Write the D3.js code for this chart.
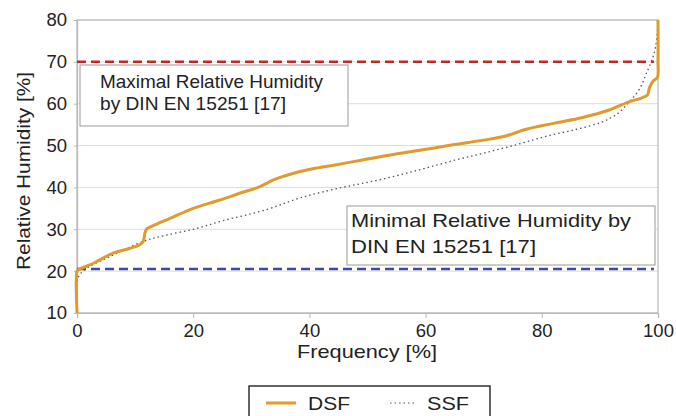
<!DOCTYPE html>
<html>
<head>
<meta charset="utf-8">
<title>Relative humidity frequency</title>
<script src="https://d3js.org/d3.v7.min.js"></script>
<style>
  body { margin: 0; background: #fff; }
  text { font-family: "Liberation Sans", Arial, sans-serif; fill: #222; }
</style>
</head>
<body>
<svg width="676" height="416"></svg>
<script>
// data (frequency %, relative humidity %)
var dsfFreq = [0, 0, 0.2, 3, 6.2, 9, 10.8, 11.4, 11.7, 12, 13, 16, 20, 24.6, 28, 31.5, 34, 38.4, 41, 45, 50, 54.9, 60, 64.7, 70, 73.8, 77.3, 82, 87, 91.6, 95.1, 97, 98.2, 98.5, 99.1, 99.9, 100, 100];
var dsfRH   = [10, 20, 20.3, 22, 24.3, 25.4, 26.3, 27.1, 29.1, 30.1, 30.8, 32.6, 35, 37, 38.6, 40.2, 41.9, 43.8, 44.6, 45.5, 46.8, 48, 49.1, 50.2, 51.3, 52.3, 53.9, 55.3, 56.7, 58.5, 60.5, 61.3, 62.1, 63.7, 65.3, 66.3, 70, 80];

var ssfFreq = [0, 0, 0.5, 1.7, 5.7, 11.4, 15, 20, 25, 32.6, 38.4, 45, 52, 58.9, 65, 70, 75.6, 80.7, 86, 90.5, 93, 95.1, 96.8, 97.9, 99.4, 99.9, 100];
var ssfRH   = [10, 17.5, 19.2, 20.7, 23.5, 27.1, 28.5, 30, 32, 34.7, 37.5, 39.8, 41.8, 44.2, 46.5, 48.2, 50.2, 52.2, 53.9, 55.7, 57.6, 60.5, 63.5, 66.9, 72.4, 77.6, 80];

var xTicks = [0, 20, 40, 60, 80, 100];
var yTicks = [10, 20, 30, 40, 50, 60, 70, 80];
var maxRH = 70;
var minRH = 20.5;
var maxLabel = ["Maximal Relative Humidity", "by DIN EN 15251 [17]"];
var minLabel = ["Minimal Relative Humidity by", "DIN EN 15251 [17]"];
var seriesNames = ["DSF", "SSF"];

var margin = { left: 77, right: 18, top: 20, bottom: 103 };
var width = 676, height = 416;
var svg = d3.select("svg");

var x = d3.scaleLinear().domain([0, 100]).range([margin.left, width - margin.right]);
var y = d3.scaleLinear().domain([10, 80]).range([height - margin.bottom, margin.top]);

// text widths measured on the reference (the original font runs wider)
function fit(sel, w) {
  return sel.attr("textLength", w).attr("lengthAdjust", "spacingAndGlyphs");
}

// grid
svg.append("g").selectAll("line").data(yTicks).enter().append("line")
  .attr("x1", x(0)).attr("x2", x(100))
  .attr("y1", d => y(d)).attr("y2", d => y(d))
  .attr("stroke", "#dcdcdc").attr("stroke-width", 1);

// frame
svg.append("rect")
  .attr("x", x(0)).attr("y", y(80))
  .attr("width", x(100) - x(0)).attr("height", y(10) - y(80))
  .attr("fill", "none").attr("stroke", "#b8b8b8").attr("stroke-width", 1.2);

// axes
var xAxis = svg.append("g")
  .attr("transform", "translate(0," + y(10) + ")")
  .call(d3.axisBottom(x).tickValues(xTicks).tickSize(5).tickPadding(6));
var yAxis = svg.append("g")
  .attr("transform", "translate(" + x(0) + ",0)")
  .call(d3.axisLeft(y).tickValues(yTicks).tickSize(3).tickPadding(7));
[xAxis, yAxis].forEach(function (a) {
  a.select(".domain").attr("stroke", "#b8b8b8").attr("stroke-width", 1.2);
  a.selectAll(".tick line").attr("stroke", "#b8b8b8");
  a.selectAll("text").style("font-size", "18.5px").style("font-family", "Liberation Sans, Arial, sans-serif").attr("fill", "#222");
});

fit(svg.append("text")
  .attr("x", 367).attr("y", 358)
  .attr("text-anchor", "middle").style("font-size", "18.5px")
  .text("Frequency [%]"), 140);
fit(svg.append("text")
  .attr("transform", "translate(30,171) rotate(-90)")
  .attr("text-anchor", "middle").style("font-size", "18.5px")
  .text("Relative Humidity [%]"), 198);

// limit lines
svg.append("line")
  .attr("x1", x(0)).attr("x2", x(99.3))
  .attr("y1", y(maxRH)).attr("y2", y(maxRH))
  .attr("stroke", "#c0282c").attr("stroke-width", 2.5).attr("stroke-dasharray", "9,5");
svg.append("line")
  .attr("x1", x(0)).attr("x2", x(99.3))
  .attr("y1", y(minRH)).attr("y2", y(minRH))
  .attr("stroke", "#3c4aa3").attr("stroke-width", 2.5).attr("stroke-dasharray", "9,5");

// curves
var line = d3.line().x(d => x(d[0])).y(d => y(d[1])).curve(d3.curveCatmullRom.alpha(0.5));
var ssf = d3.zip(ssfFreq, ssfRH);
var dsf = d3.zip(dsfFreq, dsfRH);

svg.append("path").datum(ssf)
  .attr("d", line)
  .attr("fill", "none").attr("stroke", "#555").attr("stroke-width", 1.3)
  .attr("stroke-dasharray", "1.5,3");
svg.append("path").datum(dsf)
  .attr("d", line)
  .attr("fill", "none").attr("stroke", "#e09a2e").attr("stroke-width", 3)
  .attr("stroke-linejoin", "round");

// annotation boxes
function labelBox(bx, by, bw, bh, lines, widths, tx, ys) {
  var g = svg.append("g");
  g.append("rect").attr("x", bx).attr("y", by).attr("width", bw).attr("height", bh)
    .attr("fill", "#fff").attr("stroke", "#aaa").attr("stroke-width", 1.2);
  g.selectAll("text").data(lines).enter().append("text")
    .attr("x", tx).attr("y", (d, i) => ys[i])
    .attr("textLength", (d, i) => widths[i]).attr("lengthAdjust", "spacingAndGlyphs")
    .style("font-size", "18.5px")
    .text(d => d);
}
labelBox(80, 65, 268, 61, maxLabel, [223, 186], 100, [88, 110]);
labelBox(347, 206, 308, 59, minLabel, [280, 185], 351, [227, 253]);

// legend
var lg = svg.append("g");
lg.append("rect").attr("x", 249).attr("y", 386).attr("width", 241).attr("height", 40)
  .attr("fill", "#fff").attr("stroke", "#111").attr("stroke-width", 1.3);
lg.append("line").attr("x1", 266).attr("x2", 296).attr("y1", 403).attr("y2", 403)
  .attr("stroke", "#e09a2e").attr("stroke-width", 3);
lg.append("line").attr("x1", 390).attr("x2", 416).attr("y1", 403).attr("y2", 403)
  .attr("stroke", "#555").attr("stroke-width", 1.2).attr("stroke-dasharray", "1.5,3");
lg.selectAll("text.lgt").data(seriesNames).enter().append("text")
  .attr("class", "lgt")
  .attr("x", (d, i) => i === 0 ? 308 : 427).attr("y", 410)
  .attr("textLength", 42).attr("lengthAdjust", "spacingAndGlyphs")
  .style("font-size", "18.5px")
  .text(d => d);
</script>
</body>
</html>
